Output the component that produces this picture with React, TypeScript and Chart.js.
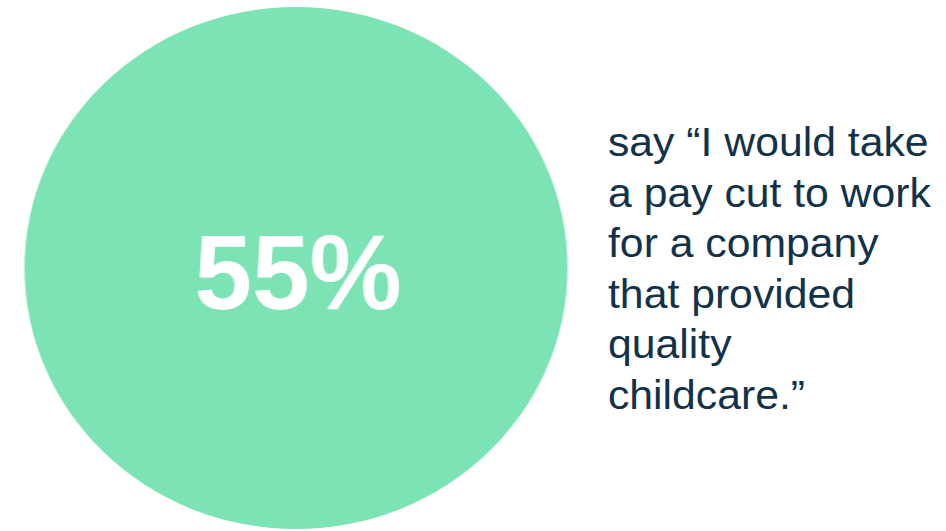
import React, { useEffect, useRef } from "react";
import { Chart, registerables } from "chart.js";

Chart.register(...registerables);

const categories = ["Would take a pay cut for quality childcare"];
const values = [55];
const statLabel = "55%";
const quoteLines = [
  "say \u201CI would take",
  "a pay cut to work",
  "for a company",
  "that provided",
  "quality",
  "childcare.\u201D",
];

const GREEN = "#7BE3B4";
const NAVY = "#12324A";

const centerLabel = {
  id: "centerLabel",
  afterDraw(chart: any) {
    const { ctx, chartArea } = chart;
    const cx = (chartArea.left + chartArea.right) / 2;
    ctx.save();
    ctx.translate(cx + 2, 302);
    ctx.scale(0.94, 1);
    ctx.fillStyle = "#FFFFFF";
    ctx.font = "bold 106px 'Liberation Sans', Arial, sans-serif";
    ctx.textAlign = "center";
    ctx.textBaseline = "alphabetic";
    ctx.fillText(statLabel, 0, 0);
    ctx.restore();
  },
};

export default function App() {
  const ref = useRef<HTMLCanvasElement | null>(null);
  useEffect(() => {
    if (!ref.current) return;
    const chart = new Chart(ref.current, {
      type: "pie",
      data: {
        labels: categories,
        datasets: [
          {
            data: values,
            backgroundColor: [GREEN],
            borderWidth: 0,
          },
        ],
      },
      options: {
        animation: false,
        responsive: true,
        maintainAspectRatio: false,
        layout: { padding: 0 },
        plugins: {
          legend: { display: false },
          tooltip: { enabled: false },
          title: { display: false },
        },
      },
      plugins: [centerLabel],
    });
    return () => chart.destroy();
  }, []);

  return (
    <div
      style={{
        position: "fixed",
        left: 0,
        top: 0,
        width: 946,
        height: 531,
        background: "#FFFFFF",
        overflow: "hidden",
      }}
    >
      <div
        style={{
          position: "absolute",
          left: 34.5,
          top: 7,
          width: 522,
          height: 522,
          transform: "scaleX(1.0402)",
          transformOrigin: "center center",
        }}
      >
        <canvas ref={ref} />
      </div>
      <div
        style={{
          position: "absolute",
          left: 608,
          top: 117,
          fontFamily: "'Liberation Sans', Arial, sans-serif",
          fontSize: 41,
          lineHeight: "50.6px",
          color: NAVY,
          whiteSpace: "nowrap",
          transform: "scaleX(1.042)",
          transformOrigin: "left top",
        }}
      >
        {quoteLines.map((l, i) => (
          <div key={i}>{l}</div>
        ))}
      </div>
    </div>
  );
}
